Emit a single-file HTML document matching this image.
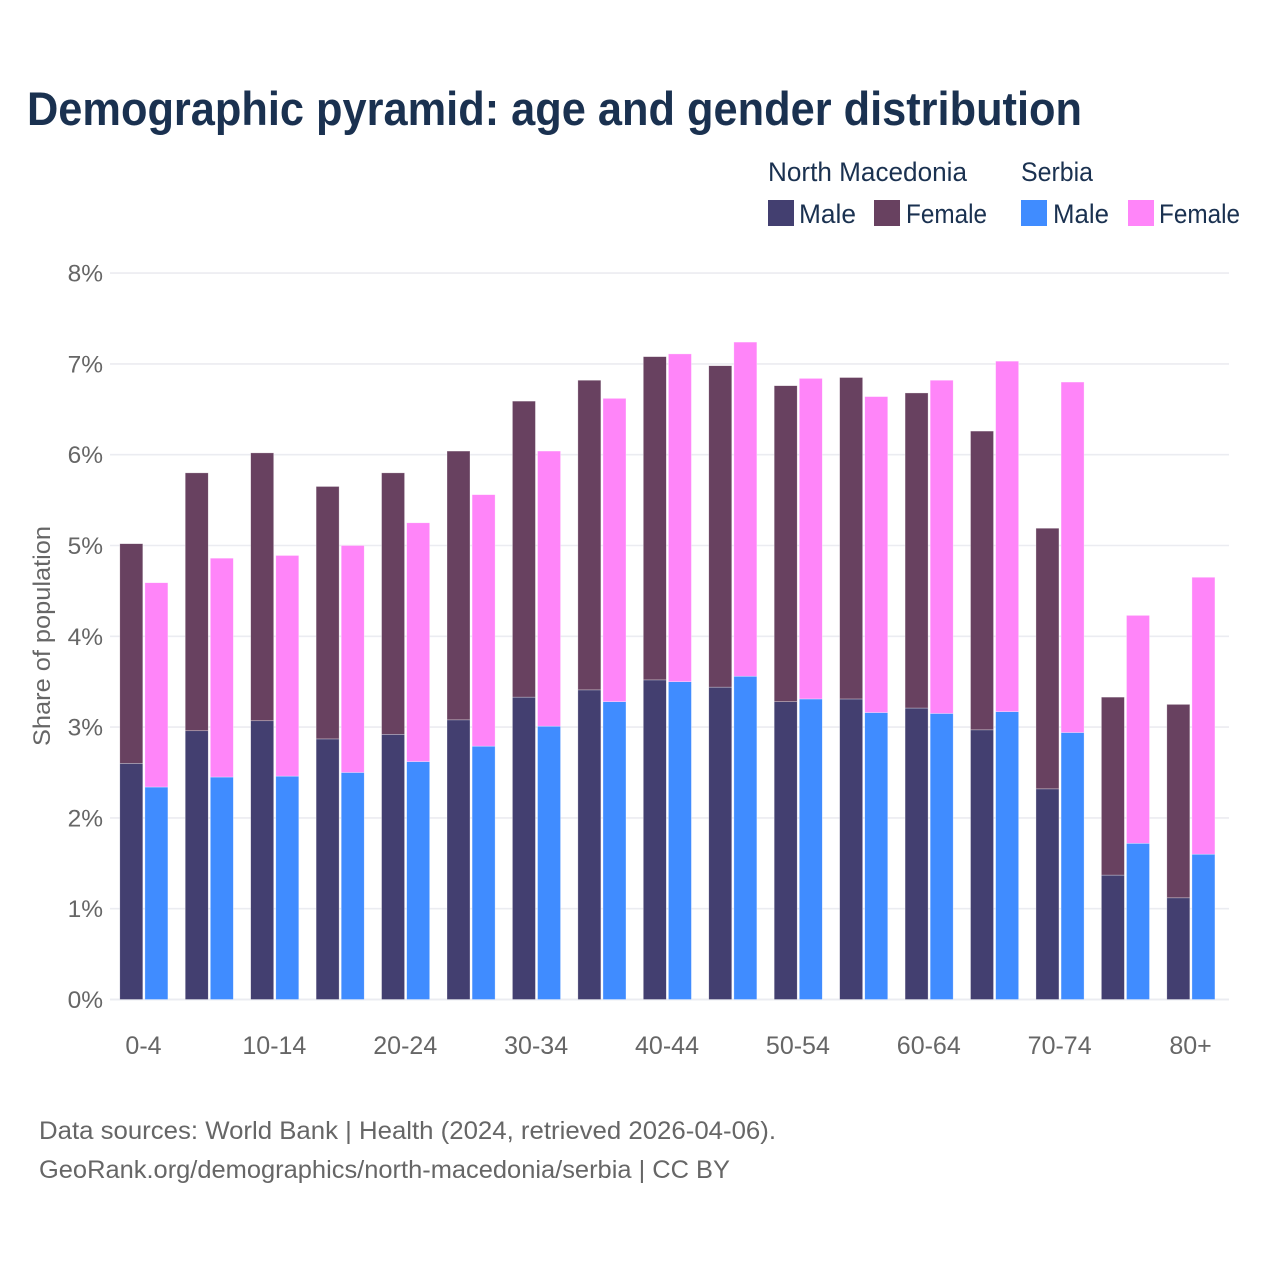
<!DOCTYPE html>
<html lang="en">
<head>
<meta charset="utf-8">
<title>Demographic pyramid</title>
<style>
html,body{margin:0;padding:0;background:#fff;}
svg{display:block;font-family:"Liberation Sans",sans-serif;}
</style>
</head>
<body>
<svg id="chart" width="1280" height="1280" viewBox="0 0 1280 1280" xmlns="http://www.w3.org/2000/svg">
<rect width="1280" height="1280" fill="#ffffff"/>
<text x="27" y="125" font-size="47" font-weight="700" fill="#1a3150" textLength="1055" lengthAdjust="spacingAndGlyphs">Demographic pyramid: age and gender distribution</text>
<g font-size="26.5" fill="#1a3150">
<text x="768" y="181" textLength="199" lengthAdjust="spacingAndGlyphs">North Macedonia</text>
<text x="1021" y="181" textLength="72" lengthAdjust="spacingAndGlyphs">Serbia</text>
<rect x="768" y="200" width="26" height="26" fill="#433f70"/>
<text x="799" y="223" textLength="57" lengthAdjust="spacingAndGlyphs">Male</text>
<rect x="874" y="200" width="26" height="26" fill="#684160"/>
<text x="906" y="223" textLength="81" lengthAdjust="spacingAndGlyphs">Female</text>
<rect x="1021" y="200" width="26" height="26" fill="#408cff"/>
<text x="1053" y="223" textLength="56" lengthAdjust="spacingAndGlyphs">Male</text>
<rect x="1128" y="200" width="26" height="26" fill="#ff85f9"/>
<text x="1159" y="223" textLength="81" lengthAdjust="spacingAndGlyphs">Female</text>
</g>
<g id="grid"></g>
<g id="bars"></g>
<g id="ylabels"></g>
<g id="xlabels"></g>
<text transform="translate(50,636) rotate(-90)" text-anchor="middle" font-size="24" fill="#666666" textLength="220" lengthAdjust="spacingAndGlyphs">Share of population</text>
<text x="39" y="1139" font-size="25" fill="#666666" textLength="737" lengthAdjust="spacingAndGlyphs">Data sources: World Bank | Health (2024, retrieved 2026-04-06).</text>
<text x="39" y="1178" font-size="25" fill="#666666" textLength="691" lengthAdjust="spacingAndGlyphs">GeoRank.org/demographics/north-macedonia/serbia | CC BY</text>
</svg>
<script>
const categories = ["0-4","5-9","10-14","15-19","20-24","25-29","30-34","35-39","40-44","45-49","50-54","55-59","60-64","65-69","70-74","75-79","80+"];
const nmMale = [2.60,2.96,3.07,2.87,2.92,3.08,3.33,3.41,3.52,3.44,3.28,3.31,3.21,2.97,2.32,1.37,1.12];
const nmFemale = [2.42,2.84,2.95,2.78,2.88,2.96,3.26,3.41,3.56,3.54,3.48,3.54,3.47,3.29,2.87,1.96,2.13];
const serbiaMale = [2.34,2.45,2.46,2.50,2.62,2.79,3.01,3.28,3.50,3.56,3.31,3.16,3.15,3.17,2.94,1.72,1.60];
const serbiaFemale = [2.25,2.41,2.43,2.50,2.63,2.77,3.03,3.34,3.61,3.68,3.53,3.48,3.67,3.86,3.86,2.51,3.05];
const yTicks = [0,1,2,3,4,5,6,7,8];

const NS = "http://www.w3.org/2000/svg";
const yAxis = v => 999.5 - v * 90.8;
const step = 65.44;
const xAxis = i => 144 + i * step;
const barW = 23;

function make(tag, attrs, parent, text) {
  const el = document.createElementNS(NS, tag);
  for (const k in attrs) el.setAttribute(k, attrs[k]);
  if (text !== undefined) el.textContent = text;
  parent.appendChild(el);
  return el;
}

const grid = document.getElementById("grid");
const ylabels = document.getElementById("ylabels");
yTicks.forEach(t => {
  const line = make("line", {x1:110, x2:1229, y1:yAxis(t), y2:yAxis(t), stroke:"#ebecf1", "stroke-width":t===0?2:1.6}, grid);
  
  
  const label = make("text", {x:103, y:yAxis(t)+8.5, "text-anchor":"end", "font-size":24.5, fill:"#666666"}, ylabels, t + "%");
  
  
});

const xlabels = document.getElementById("xlabels");
categories.forEach((c, i) => {
  if (i % 2 === 0) {
    const label = make("text", {x:xAxis(i) - 0.5, y:1054, "text-anchor":"middle", "font-size":25, fill:"#666666"}, xlabels, c);
    
    
  }
});

const bars = document.getElementById("bars");
function stackedBar(x, male, female, maleColor, femaleColor, country) {
  const m = make("rect", {x:x, y:yAxis(male), width:barW, height:yAxis(0)-yAxis(male), fill:maleColor, stroke:"#ffffff", "stroke-opacity":0.5, "stroke-width":0.6}, bars);
  
  
  const f = make("rect", {x:x, y:yAxis(male+female), width:barW, height:yAxis(male)-yAxis(male+female), fill:femaleColor, stroke:"#ffffff", "stroke-opacity":0.5, "stroke-width":0.6}, bars);
  
  
}
categories.forEach((c, i) => {
  const cx = xAxis(i);
  stackedBar(cx - 24.2, nmMale[i], nmFemale[i], "#433f70", "#684160", "north-macedonia");
  stackedBar(cx + 0.9, serbiaMale[i], serbiaFemale[i], "#408cff", "#ff85f9", "serbia");
});
</script>
</body>
</html>
